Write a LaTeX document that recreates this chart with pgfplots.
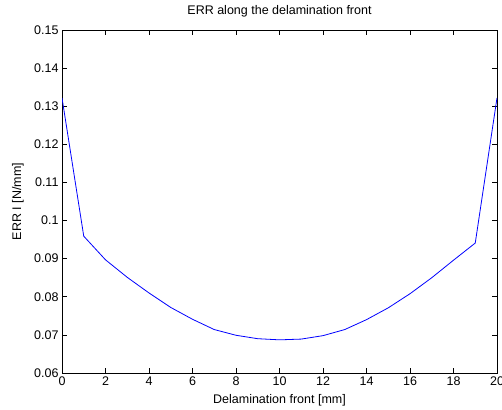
\documentclass[border=0pt]{standalone}
\usepackage{pgfplots}
\pgfplotsset{compat=1.18}
\usepackage{fontspec}
\setmainfont{Liberation Sans}

\begin{document}
\begin{tikzpicture}
\begin{axis}[
    scale only axis,
    width=435pt, height=343pt,
    xmin=0, xmax=20, ymin=0.06, ymax=0.15,
    xtick={0,2,4,6,8,10,12,14,16,18,20},
    ytick={0.06,0.07,0.08,0.09,0.1,0.11,0.12,0.13,0.14,0.15},
    scaled y ticks=false,
    yticklabel style={/pgf/number format/fixed, /pgf/number format/precision=2},
    /pgf/number format/assume math mode=true,
    tick align=inside,
    major tick length=5pt,
    tick style={black, line width=0.6pt},
    axis line style={black, line width=0.9pt},
    tick label style={font=\fontsize{12.5}{14}\selectfont},
    title={ERR along the delamination front},
    title style={at={(axis description cs:0.5,1)}, anchor=center, yshift=13pt, font=\fontsize{12.5}{14}\selectfont},
    xlabel={Delamination front [mm]},
    every axis x label/.style={at={(axis description cs:0.5,0)}, anchor=center, yshift=-27pt, font=\fontsize{12.5}{14}\selectfont},
    ylabel={ERR I [N/mm]},
    every axis y label/.style={at={([xshift=-44pt]axis description cs:0,0.5)}, rotate=90, anchor=center, font=\fontsize{12.5}{14}\selectfont},
]
% ERR along the front, one value per mm
\addplot[blue, line width=0.8pt] coordinates {
    (0,0.1322) (1,0.0959) (2,0.0897) (3,0.0851) (4,0.0810)
    (5,0.0772) (6,0.0741) (7,0.0714) (8,0.0699) (9,0.0690)
    (10,0.0687) (11,0.0689) (12,0.0698) (13,0.0714) (14,0.0740)
    (15,0.0771) (16,0.0808) (17,0.0850) (18,0.0896) (19,0.0941)
    (20,0.1322)
};
\end{axis}
\pgfresetboundingbox
\path ([shift={(-62pt,-36pt)}]current axis.south west) rectangle ([shift={(5pt,30pt)}]current axis.north east);
\end{tikzpicture}
\end{document}
